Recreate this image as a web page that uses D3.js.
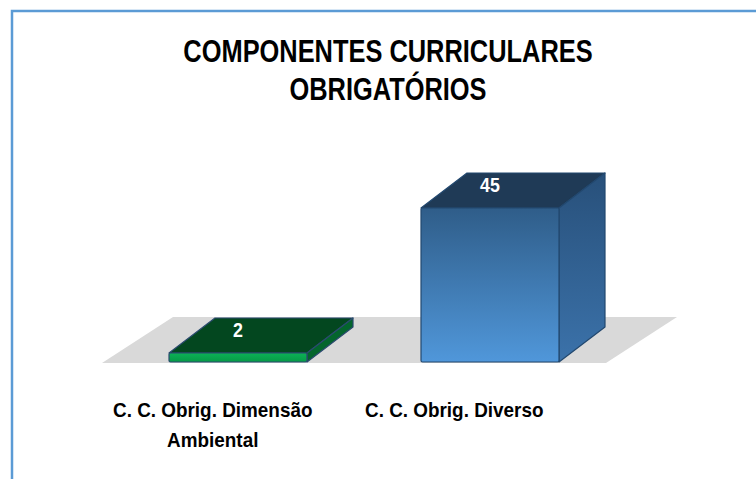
<!DOCTYPE html>
<html lang="pt">
  <head>
    <meta charset="UTF-8" />
    <title>Componentes curriculares</title>
    <script src="https://d3js.org/d3.v7.min.js" charset="utf-8"></script>
    <style>
      body { margin: 0; background: #fff; }
      text { font-family: "Liberation Sans", Arial, sans-serif; font-weight: bold; }
    </style>
  </head>
  <body>
    <div id="chart"></div>
    <script>
      const categories = [["C. C. Obrig. Dimensão", "Ambiental"], ["C. C. Obrig. Diverso"]];
      const values = [2, 45];
      const titleLines = ["COMPONENTES CURRICULARES", "OBRIGATÓRIOS"];

      const width = 756;
      const height = 479;
      const depthX = 46, depthY = 35;   // bar depth
      const floorDX = 71, floorDY = 46; // floor depth
      const barWidth = 138;

      const svg = d3.select("#chart").append("svg")
        .attr("width", width)
        .attr("height", height);

      const defs = svg.append("defs");
      function grad(id, c1, c2) {
        const g = defs.append("linearGradient").attr("id", id)
          .attr("x1", 0).attr("y1", 0).attr("x2", 0).attr("y2", 1);
        g.append("stop").attr("offset", "0%").attr("stop-color", c1);
        g.append("stop").attr("offset", "100%").attr("stop-color", c2);
      }
      grad("blueFront", "#2f5d89", "#5097da");
      grad("blueSide", "#28507a", "#3b72aa");
      grad("greenFront", "#0bb256", "#079a47");

      const colors = [
        { front: "url(#greenFront)", side: "#04652d", top: "#03471f", stroke: "#2a4a6e" },
        { front: "url(#blueFront)", side: "url(#blueSide)", top: "#1f3a56", stroke: "#22486f" }
      ];

      // no narrow font installed, so squeeze Liberation Sans horizontally
      function label(parent, txt, cx, cy, size, fill, sx) {
        return parent.append("text")
          .attr("transform", `translate(${cx},${cy}) scale(${sx},1)`)
          .attr("text-anchor", "middle")
          .attr("font-size", size)
          .attr("fill", fill)
          .text(txt);
      }

      // outer frame
      svg.append("rect")
        .attr("x", 12).attr("y", 11)
        .attr("width", 800).attr("height", 500)
        .attr("fill", "none")
        .attr("stroke", "#5b9bd5")
        .attr("stroke-width", 2.5);

      const x = d3.scaleBand()
        .domain(d3.range(categories.length))
        .range([102, 606]);

      const y = d3.scaleLinear()
        .domain([0, 45])
        .range([362, 208]);

      // floor
      const fy = y(0) + 1;
      svg.append("path")
        .attr("d", `M${x.range()[0]},${fy} L${x.range()[1]},${fy} L${x.range()[1] + floorDX},${fy - floorDY} L${x.range()[0] + floorDX},${fy - floorDY} Z`)
        .attr("fill", "#d9d9d9");

      const bars = svg.selectAll("g.bar")
        .data(values)
        .enter()
        .append("g")
        .attr("class", "bar");

      const bx = (i) => x(i) + (x.bandwidth() - barWidth) / 2 + 10;
      const topY = (d) => Math.min(y(d), y(0) - 9);

      // top face
      bars.append("path")
        .attr("d", (d, i) => {
          const x0 = bx(i), x1 = x0 + barWidth, t = topY(d);
          return `M${x0},${t} L${x1},${t} L${x1 + depthX},${t - depthY} L${x0 + depthX},${t - depthY} Z`;
        })
        .attr("fill", (d, i) => colors[i].top)
        .attr("stroke", (d, i) => colors[i].stroke)
        .attr("stroke-width", 1.2)
        .attr("stroke-linejoin", "round");

      // right side
      bars.append("path")
        .attr("d", (d, i) => {
          const x1 = bx(i) + barWidth, t = topY(d), b = y(0);
          return `M${x1},${t} L${x1 + depthX},${t - depthY} L${x1 + depthX},${b - depthY} L${x1},${b} Z`;
        })
        .attr("fill", (d, i) => colors[i].side)
        .attr("stroke", (d, i) => colors[i].stroke)
        .attr("stroke-width", 1.2)
        .attr("stroke-linejoin", "round");

      // front face
      bars.append("rect")
        .attr("x", (d, i) => bx(i))
        .attr("y", (d) => topY(d))
        .attr("width", barWidth)
        .attr("height", (d) => y(0) - topY(d))
        .attr("rx", 1.5)
        .attr("fill", (d, i) => colors[i].front)
        .attr("stroke", (d, i) => colors[i].stroke)
        .attr("stroke-width", 1.2);

      // value labels
      values.forEach((d, i) => {
        label(svg, d, bx(i) + barWidth / 2, topY(d) - depthY + 19, 21, "#fff", 0.85);
      });

      // category labels: block starts at band left + 11, lines centred in the block
      const catScale = 0.9;
      categories.forEach((lines, i) => {
        const g = svg.append("g");
        const texts = lines.map((t) => label(g, t, 0, 0, 21, "#000", catScale));
        const w = d3.max(texts, (t) => t.node().getComputedTextLength()) * catScale;
        texts.forEach((t, k) => {
          t.attr("transform", `translate(${x(i) + 11 + w / 2},${417 + k * 29.5}) scale(${catScale},1)`);
        });
      });

      // title
      titleLines.forEach((t, i) => {
        label(svg, t, 388, 62 + i * 38, 31, "#000", 0.82);
      });
    </script>
  </body>
</html>
